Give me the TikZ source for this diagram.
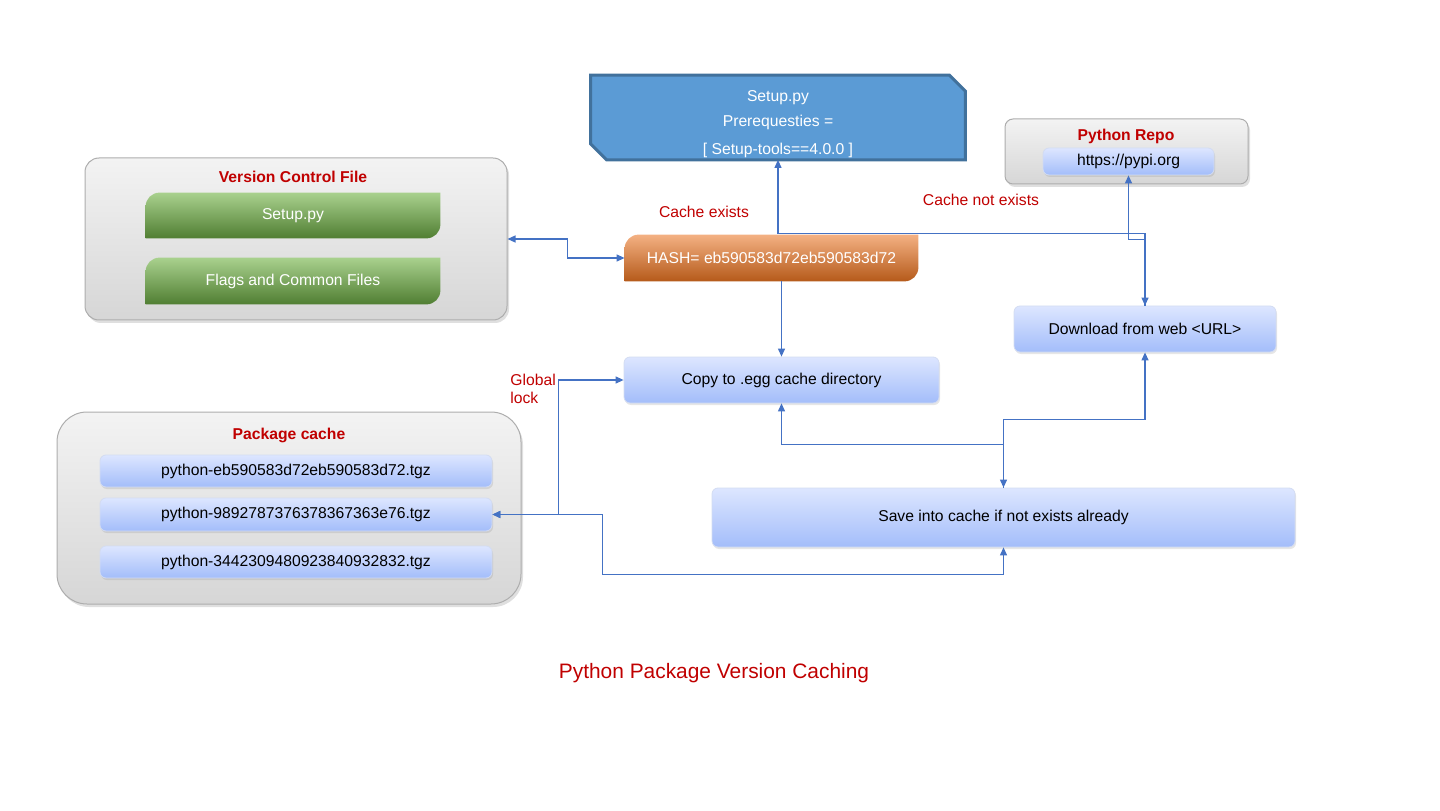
\documentclass[tikz,border=0pt]{standalone}
\usepackage{fontspec}
\setmainfont{Liberation Sans}
\usetikzlibrary{positioning}
\usetikzlibrary{shadows}
\usetikzlibrary{calc}
\usetikzlibrary{arrows.meta}
\definecolor{py-red}{HTML}{C00000}
\definecolor{py-blue}{HTML}{4472C4}
\definecolor{py-steel}{HTML}{5B9BD5}
\definecolor{py-steel-edge}{HTML}{41719C}
\definecolor{py-gray-top}{HTML}{F3F3F3}
\definecolor{py-gray-bottom}{HTML}{D6D6D6}
\definecolor{py-frame}{HTML}{ADADAD}
\definecolor{py-lav-top}{HTML}{DDE6FF}
\definecolor{py-lav-bottom}{HTML}{A3BDFA}
\definecolor{py-lav-edge}{HTML}{D3DCF2}
\definecolor{py-green-top}{HTML}{A9D18E}
\definecolor{py-green-mid}{HTML}{70AD47}
\definecolor{py-green-bottom}{HTML}{507E32}
\definecolor{py-orange-top}{HTML}{F4B183}
\definecolor{py-orange-mid}{HTML}{ED7D31}
\definecolor{py-orange-bottom}{HTML}{B55A1A}
\pgfdeclarelayer{back}
\pgfdeclarelayer{tabs}
\pgfsetlayers{back,tabs,main}
\newcommand{\tabshade}[2]{%
  \shade[#2] (#1.south west) -- ([yshift=-7pt]#1.north west) arc[start angle=180, end angle=90, radius=7pt]
    -- (#1.north east) -- ([yshift=7pt]#1.south east) arc[start angle=0, end angle=-90, radius=7pt] -- cycle;}

\begin{document}
\begin{tikzpicture}[
  x=0.5pt, y=0.5pt,
  font=\fontsize{7.85}{9}\selectfont,
  >={Triangle[length=4pt, width=3.5pt]},
  panel/.style={draw=py-frame, line width=0.5pt, top color=py-gray-top, bottom color=py-gray-bottom, inner sep=0pt,
    drop shadow={opacity=0.25, shadow xshift=1pt, shadow yshift=-1.5pt}},
  heading/.style={font=\bfseries\fontsize{7.85}{9}\selectfont, text=py-red},
  entry/.style={draw=py-lav-edge, line width=0.4pt, rounded corners=3pt, top color=py-lav-top, bottom color=py-lav-bottom,
    inner sep=0pt, drop shadow={opacity=0.2, shadow xshift=0.5pt, shadow yshift=-1pt}},
  tab/.style={text=white, inner sep=0pt},
  green/.style={top color=py-green-top, middle color=py-green-mid, bottom color=py-green-bottom},
  orange/.style={top color=py-orange-top, middle color=py-orange-mid, bottom color=py-orange-bottom},
  remark/.style={text=py-red},
  link/.style={py-blue, line width=0.6pt}
]
\useasboundingbox (0,0) rectangle (1440,810);

% Panels
\begin{pgfonlayer}{back}
\node[panel, rounded corners=7pt, minimum width=211pt, minimum height=81pt] (vcf) at (296,571) {};
\node[panel, rounded corners=15pt, minimum width=232pt, minimum height=96pt] (pkg) at (289,302) {};
\node[panel, rounded corners=4pt, minimum width=121.5pt, minimum height=32.5pt] (repo) at (1126.5,658.5) {};
\end{pgfonlayer}

% Setup.py prerequisites
\node[tab, align=center, minimum width=187pt, minimum height=42pt, font=\fontsize{7.85}{12.5}\selectfont] (setuppy) at (778,692.5)
  {\rule{0pt}{12pt}Setup.py\\Prerequesties =\\[1.5pt]{[} Setup-tools==4.0.0 {]}};

% Python Repo
\node[heading] (repotitle) at (1126,674) {Python Repo};
\node[entry, minimum width=85.5pt, minimum height=13.5pt] (pypi) at (1128.5,648.5) {https://pypi.org};

% Version Control File
\node[heading] (vcftitle) at (293,633) {Version Control File};
\node[tab, minimum width=147pt, minimum height=22.5pt] (vsetup) at (293,594.5) {Setup.py};
\node[tab, minimum width=147pt, minimum height=23pt] (vflags) at (293,529) {Flags and Common Files};

% Hash
\node[tab, minimum width=146.5pt, minimum height=23pt] (hash) at (771.5,552) {HASH= eb590583d72eb590583d72};

\begin{pgfonlayer}{tabs}
\filldraw[fill=py-steel, draw=py-steel-edge, line width=1.5pt]
  ([yshift=8pt]setuppy.south west) -- (setuppy.north west) -- ([xshift=-8pt]setuppy.north east)
  -- ([yshift=-8pt]setuppy.north east) -- (setuppy.south east) -- ([xshift=8pt]setuppy.south west) -- cycle;
\tabshade{vsetup}{green}
\tabshade{vflags}{green}
\tabshade{hash}{orange}
\end{pgfonlayer}

% Steps
\node[entry, minimum width=131pt, minimum height=23pt] (download) at (1145,481) {Download from web <URL>};
\node[entry, minimum width=157.5pt, minimum height=23pt] (copy) at (781.5,430) {Copy to .egg cache directory};
\node[entry, minimum width=291.5pt, minimum height=29.5pt] (save) at (1003.5,292.5) {Save into cache if not exists already};

% Package cache
\node[heading] (pkgtitle) at (289,375) {Package cache};
\node[entry, minimum width=196pt, minimum height=16pt] (item1) at (296,339) {python-eb590583d72eb590583d72.tgz};
\node[entry, minimum width=196pt, minimum height=16.5pt] (item2) at (296,295.5) {python-9892787376378367363e76.tgz};
\node[entry, minimum width=196pt, minimum height=16pt] (item3) at (296,248) {python-3442309480923840932832.tgz};

% Labels
\node[remark] (hit) at (704,598) {Cache exists};
\node[remark] (miss) at (981,610) {Cache not exists};
\node[remark, align=left, anchor=west, inner sep=0pt] (lock) at (510,421) {Global\\lock};
\node[text=py-red, font=\fontsize{10.45}{12}\selectfont] (caption) at (714,137) {Python Package Version Caching};

% Edges
\draw[link, <->] (vcf.east) -- ++(60,0) |- (hash.west);
\draw[link, <->] (setuppy.south) |- ($(download.north |- hash.north)+(0,1)$) -- (download.north);
\draw[link, ->] (download.north) -- ++(0,66) -| (pypi.south);
\draw[link, ->] (hash.south -| copy.north) -- (copy.north);
\draw[link, <->] (copy.west) -| ($(item2.east)+(66,0)$) -- (item2.east);
\draw[link, <->] (save.south) -- ++(0,-27) -| ($(item2.east)+(110,0)$) -- (item2.east);
\draw[link, <->] (copy.south) -- ++(0,-41) -| (save.north);
\draw[link, ->] (save.north) -- ++(0,68) -| (download.south);
\end{tikzpicture}
\end{document}
